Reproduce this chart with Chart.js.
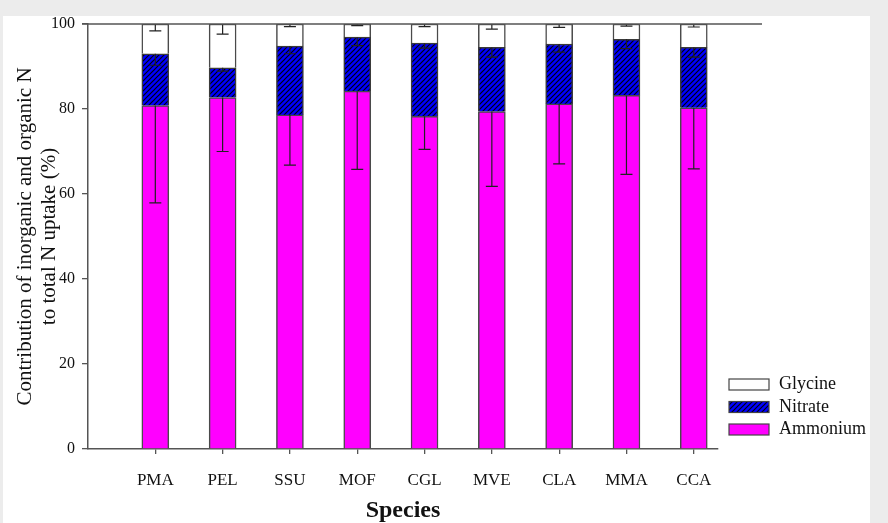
<!DOCTYPE html>
<html>
<head>
<meta charset="utf-8">
<script src="https://cdn.jsdelivr.net/npm/chart.js@4.4.1/dist/chart.umd.min.js"></script>
<style>
  html, body { margin: 0; padding: 0; background: #ececec; }
  #wrap { position: absolute; left: 3px; top: 16px; width: 867px; height: 507px; background: #ffffff; }
</style>
</head>
<body>
<div id="wrap"><canvas id="chart" width="867" height="507"></canvas></div>
<script>
// species on the x axis
var species = ["PMA", "PEL", "SSU", "MOF", "CGL", "MVE", "CLA", "MMA", "CCA"];

// stacked contributions (%)
var ammonium = [80.8, 82.7, 78.6, 84.2, 78.3, 79.4, 81.2, 83.2, 80.3];
var nitrate  = [12.2, 7.0, 16.2, 12.7, 17.2, 15.1, 14.1, 13.2, 14.2];
var glycine  = [7.0, 10.3, 5.2, 3.1, 4.5, 5.5, 4.7, 3.6, 5.5];

// error bars (drawn downward from the top of each segment)
var ammoniumErr = [22.9, 12.7, 11.8, 18.4, 7.8, 17.6, 14.1, 18.6, 14.4];
var nitrateErr  = [2.7, 0.8, 1.8, 2.0, 1.2, 2.3, 1.9, 2.2, 2.3];
var glycineErr  = [1.6, 2.4, 0.6, 0.4, 0.6, 1.2, 0.8, 0.5, 0.7];

var yTicks = [0, 20, 40, 60, 80, 100];

var serif = "'Liberation Serif', 'Times New Roman', serif";
var axisColor = "#555555";

function makeHatch() {
    var c = document.createElement("canvas");
    c.width = 5; c.height = 5;
    var g = c.getContext("2d");
    g.fillStyle = "#0000ff";
    g.fillRect(0, 0, 5, 5);
    g.strokeStyle = "#000010";
    g.lineWidth = 1.2;
    g.beginPath();
    g.moveTo(-1, 6); g.lineTo(6, -1);
    g.moveTo(-1, 1); g.lineTo(1, -1);
    g.moveTo(4, 6); g.lineTo(6, 4);
    g.stroke();
    return g.createPattern(c, "repeat");
}

function toPoints(values) {
    return values.map(function (v, i) { return { x: i + 1, y: v }; });
}

var hatch = makeHatch();

var errorBars = {
    id: "errorBars",
    afterDatasetsDraw: function (chart) {
        var ctx = chart.ctx;
        var yScale = chart.scales.y;
        var sums = species.map(function () { return 0; });
        ctx.save();
        ctx.strokeStyle = "#222222";
        ctx.lineWidth = 1.2;
        chart.data.datasets.forEach(function (ds, di) {
            var meta = chart.getDatasetMeta(di);
            meta.data.forEach(function (bar, j) {
                sums[j] += ds.data[j].y;
                var yTop = yScale.getPixelForValue(sums[j]);
                var yLow = yScale.getPixelForValue(sums[j] - ds.errors[j]);
                ctx.beginPath();
                ctx.moveTo(bar.x, yTop);
                ctx.lineTo(bar.x, yLow);
                ctx.moveTo(bar.x - 6, yLow);
                ctx.lineTo(bar.x + 6, yLow);
                ctx.stroke();
            });
        });
        ctx.restore();
    }
};

var frameAndLegend = {
    id: "frameAndLegend",
    afterDraw: function (chart) {
        var ctx = chart.ctx;
        var area = chart.chartArea;
        ctx.save();
        // top frame line
        ctx.strokeStyle = axisColor;
        ctx.lineWidth = 1.5;
        ctx.beginPath();
        ctx.moveTo(area.left - 6, area.top);
        ctx.lineTo(759, area.top);
        ctx.stroke();

        // legend (Glycine, Nitrate, Ammonium from top)
        var order = chart.data.datasets.slice().reverse();
        ctx.font = "18px " + serif;
        ctx.textBaseline = "middle";
        ctx.textAlign = "left";
        order.forEach(function (ds, k) {
            var top = 363 + k * 22.5;
            ctx.fillStyle = ds.backgroundColor;
            ctx.fillRect(726, top, 40, 11);
            ctx.strokeStyle = "#444444";
            ctx.lineWidth = 1.2;
            ctx.strokeRect(726, top, 40, 11);
            ctx.fillStyle = "#111111";
            ctx.fillText(ds.label, 776, top + 5.5);
        });
        ctx.restore();
    }
};

new Chart(document.getElementById("chart"), {
    type: "bar",
    data: {
        datasets: [
            { label: "Ammonium", data: toPoints(ammonium), errors: ammoniumErr,
              backgroundColor: "#ff00ff", borderColor: "#4a4a4a", borderWidth: 1.5 },
            { label: "Nitrate", data: toPoints(nitrate), errors: nitrateErr,
              backgroundColor: hatch, borderColor: "#3a3a3a", borderWidth: 1.5 },
            { label: "Glycine", data: toPoints(glycine), errors: glycineErr,
              backgroundColor: "#ffffff", borderColor: "#4a4a4a", borderWidth: 1.5 }
        ]
    },
    options: {
        responsive: false,
        animation: false,
        layout: { padding: { left: 0, right: 152, top: 8, bottom: 0 } },
        datasets: { bar: { barThickness: 27 } },
        plugins: {
            legend: { display: false },
            tooltip: { enabled: false }
        },
        scales: {
            x: {
                type: "linear",
                stacked: true,
                offset: false,
                min: 0,
                max: 9.36,
                afterBuildTicks: function (scale) {
                    scale.ticks = species.map(function (s, i) { return { value: i + 1 }; });
                },
                afterFit: function (scale) { scale.height = 74; },
                ticks: {
                    autoSkip: false,
                    maxRotation: 0,
                    padding: 16,
                    color: "#111111",
                    font: { family: serif, size: 17 },
                    callback: function (value) { return species[value - 1]; }
                },
                grid: { offset: false, drawOnChartArea: false, tickLength: 5, color: axisColor, lineWidth: 1.3 },
                border: { color: axisColor, width: 1.5 },
                title: {
                    display: true,
                    text: "Species",
                    color: "#111111",
                    font: { family: serif, size: 24, weight: "bold", lineHeight: 1 },
                    padding: { top: 0, bottom: 0 }
                }
            },
            y: {
                stacked: true,
                min: 0,
                max: 100,
                afterBuildTicks: function (scale) {
                    scale.ticks = yTicks.map(function (v) { return { value: v }; });
                },
                afterFit: function (scale) {
                    scale.width = 85;
                    scale.paddingTop = 0;
                    scale.paddingBottom = 0;
                },
                ticks: {
                    padding: 7,
                    color: "#111111",
                    font: { family: serif, size: 16 }
                },
                grid: { drawOnChartArea: false, tickLength: 6, color: axisColor, lineWidth: 1.3 },
                border: { color: axisColor, width: 1.5 },
                title: {
                    display: true,
                    text: ["Contribution of inorganic and organic N", "to total N uptake (%)"],
                    color: "#111111",
                    font: { family: serif, size: 21, lineHeight: 1.15 },
                    padding: { top: 10, bottom: 0 }
                }
            }
        }
    },
    plugins: [errorBars, frameAndLegend]
});
</script>
</body>
</html>
